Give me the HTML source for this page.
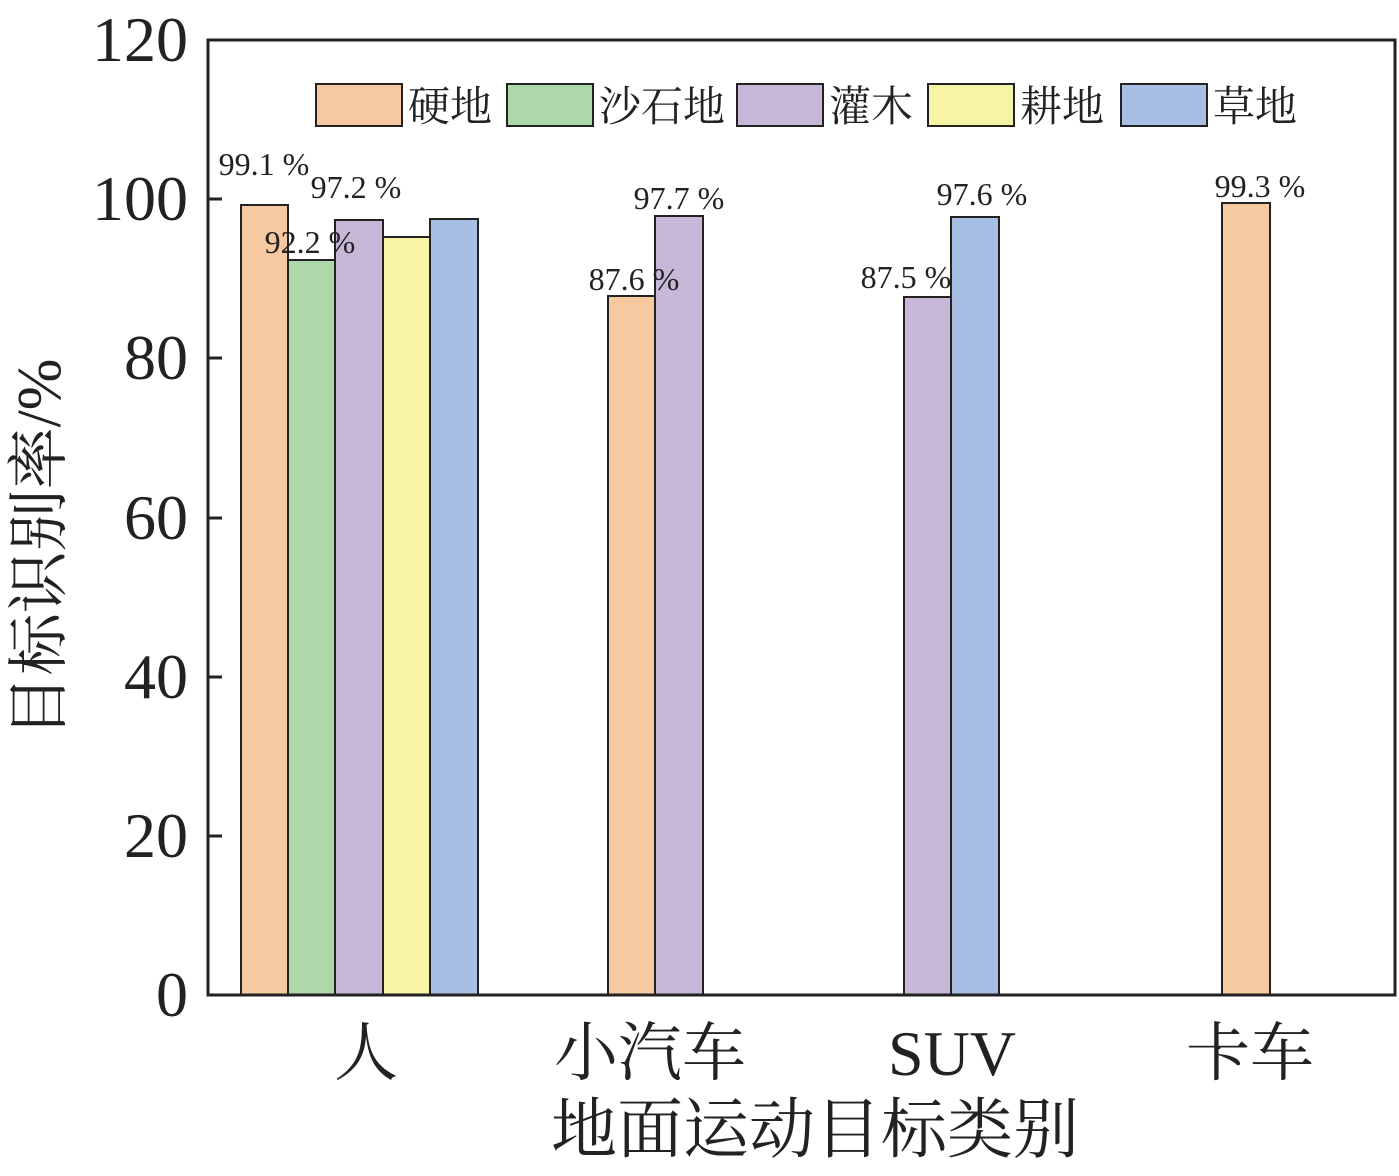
<!DOCTYPE html>
<html><head><meta charset="utf-8"><style>body{margin:0;background:#fff}</style></head><body>
<svg width="1399" height="1171" xmlns="http://www.w3.org/2000/svg" font-family="Liberation Serif, Noto Serif CJK SC, serif">
<rect width="1399" height="1171" fill="#fff"/>
<g stroke="#222" stroke-width="2">
<rect x="241" y="205" width="47" height="790" fill="#F7C9A0"/>
<rect x="288" y="260" width="47" height="735" fill="#ACD8AA"/>
<rect x="335" y="220" width="48" height="775" fill="#C8B8D8"/>
<rect x="383" y="237" width="47" height="758" fill="#F7F5A5"/>
<rect x="430" y="219" width="48" height="776" fill="#A6BFE3"/>
<rect x="608" y="296" width="47" height="699" fill="#F7C9A0"/>
<rect x="655" y="216" width="48" height="779" fill="#C8B8D8"/>
<rect x="904" y="297" width="47" height="698" fill="#C8B8D8"/>
<rect x="951" y="217" width="48" height="778" fill="#A6BFE3"/>
<rect x="1222" y="203" width="48" height="792" fill="#F7C9A0"/>
</g>
<rect x="208" y="40" width="1187" height="955" fill="none" stroke="#222" stroke-width="3"/>
<g stroke="#222" stroke-width="3">
<line x1="208" y1="40" x2="222" y2="40"/><line x1="208" y1="199" x2="222" y2="199"/><line x1="208" y1="358" x2="222" y2="358"/><line x1="208" y1="518" x2="222" y2="518"/><line x1="208" y1="677" x2="222" y2="677"/><line x1="208" y1="836" x2="222" y2="836"/>
</g>
<g font-size="64" text-anchor="end" fill="#222">
<text x="188" y="61">120</text><text x="188" y="220">100</text><text x="188" y="379">80</text><text x="188" y="539">60</text><text x="188" y="698">40</text><text x="188" y="857">20</text><text x="188" y="1016">0</text>
</g>
<g font-size="32" fill="#222" text-anchor="middle">
<text x="264" y="175">99.1 %</text><text x="310" y="253">92.2 %</text><text x="356" y="198">97.2 %</text>
<text x="634" y="290">87.6 %</text><text x="679" y="209">97.7 %</text>
<text x="906" y="288">87.5 %</text><text x="982" y="205">97.6 %</text>
<text x="1260" y="197">99.3 %</text>
</g>
<g stroke="#222" stroke-width="2">
<rect x="316" y="84" width="86" height="42" fill="#F7C9A0"/>
<rect x="507" y="84" width="86" height="42" fill="#ACD8AA"/>
<rect x="737" y="84" width="86" height="42" fill="#C8B8D8"/>
<rect x="928" y="84" width="86" height="42" fill="#F7F5A5"/>
<rect x="1121" y="84" width="86" height="42" fill="#A6BFE3"/>
</g>
<g font-size="42" fill="#222">
<text x="408" y="121">硬地</text><text x="599" y="121">沙石地</text><text x="829" y="121">灌木</text><text x="1020" y="121">耕地</text><text x="1213" y="121">草地</text>
</g>
<g font-size="64" fill="#222" text-anchor="middle">
<text x="366" y="1075">人</text><text x="650" y="1075">小汽车</text><text x="952" y="1075">SUV</text><text x="1250" y="1075">卡车</text>
<text x="815" y="1152" font-size="66">地面运动目标类别</text>
</g>
<text transform="translate(60,548) rotate(-90)" font-size="62" fill="#222" text-anchor="middle">目标识别率/%</text>
</svg>
</body></html>
